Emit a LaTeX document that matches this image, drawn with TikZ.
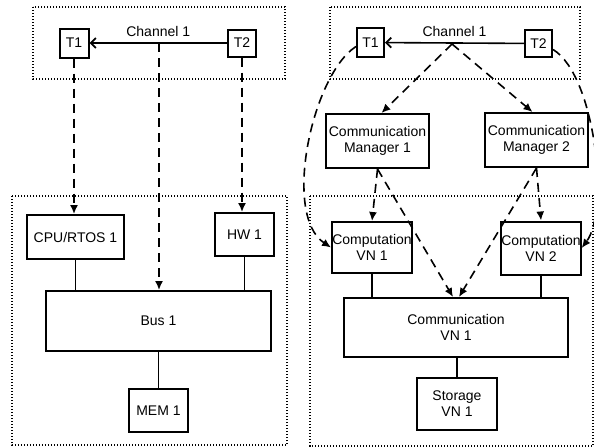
\documentclass[tikz,border=0pt]{standalone}
\usepackage{fontspec}
\setmainfont{Liberation Sans}
\usetikzlibrary{arrows.meta}

\begin{document}
\begin{tikzpicture}[x=1pt,y=-1pt,line width=1.6pt,
  font=\fontsize{14}{16}\selectfont,
  blk/.style={draw,line width=2pt,inner sep=0pt,align=center},
  grp/.style={line width=1.4pt,dash pattern=on 1.4pt off 1.6pt},
  map/.style={dash pattern=on 9pt off 6pt,-{Latex[length=9pt,width=8pt]}},
  chan/.style={-{Straight Barb[length=5pt,width=10pt,line width=1.8pt]}}]

\useasboundingbox (0,0) rectangle (594,447);
% mapping groups (dotted)
\draw[grp] (33,7) rectangle (285,79) (12,196) rectangle (287,445);
\draw[grp] (330,7) rectangle (580,79) (310,196) rectangle (593,446);

% ---- left: platform
\node[blk,minimum width=29pt,minimum height=29pt] (lt1) at (74,43) {T1};
\node[blk,minimum width=28pt,minimum height=27pt] (lt2) at (242,43) {T2};
\node[blk,minimum width=97pt,minimum height=44pt] (lcpu) at (75.5,237) {CPU/RTOS 1};
\node[blk,minimum width=59pt,minimum height=43pt] (lhw) at (244.5,234.5) {HW 1};
\node[blk,minimum width=225pt,minimum height=60pt] (lbus) at (158.5,321) {Bus 1};
\node[blk,minimum width=59pt,minimum height=43pt] (lmem) at (158.5,410.5) {MEM 1};
\draw[chan] (lt2) -- node[above=2pt] (lchl) {Channel 1} (lt1);
\coordinate (lch) at (159,43);
\draw[map] (lt1.south) -- (lt1.south |- lcpu.north);
\draw[map] (lch) -- (lch |- lbus.north);
\draw[map] (lt2.south) -- (lt2.south |- lhw.north);
\draw (lcpu.south) -- (lcpu.south |- lbus.north)
      (lhw.south) -- (lhw.south |- lbus.north)
      (lbus.south) -- (lmem.north);

% ---- right: virtual nodes
\node[blk,minimum width=27pt,minimum height=29pt] (rt1) at (370.5,42.5) {T1};
\node[blk,minimum width=27pt,minimum height=27pt] (rt2) at (538.5,43.5) {T2};
\node[blk,minimum width=103pt,minimum height=54pt] (rcm1) at (377.5,141) {Communication\\Manager 1};
\node[blk,minimum width=103pt,minimum height=54pt] (rcm2) at (536.5,140) {Communication\\Manager 2};
\node[blk,minimum width=80pt,minimum height=51pt] (rvn1) at (372,247.5) {Computation\\VN 1};
\node[blk,minimum width=78pt,minimum height=53pt] (rvn2) at (541,248) {Computation\\VN 2};
\node[blk,minimum width=224pt,minimum height=59pt] (rcom) at (456,327.5) {Communication\\VN 1};
\node[blk,minimum width=80pt,minimum height=52pt] (rsto) at (457,404) {Storage\\VN 1};
\draw[chan] (rt2) -- node[above=2pt] (rchl) {Channel 1} (rt1);
\coordinate (rch) at (452,44);
\draw[map] (rch) -- ([xshift=4pt]rcm1.north);
\draw[map] (rch) -- ([xshift=-4pt]rcm2.north);
\draw[map] (rcm1.south) -- (rvn1.north);
\draw[map] (rcm1.south) -- ([xshift=-3pt]rcom.north);
\draw[map] (rcm2.south) -- (rvn2.north);
\draw[map] (rcm2.south) -- ([xshift=3pt]rcom.north);
\draw[map] ([yshift=-4pt]rt1.west) .. controls (312,75) and (282,215) .. (rvn1.west);
\draw[map] ([yshift=-6pt]rt2.east) .. controls (595,75) and (610,210) .. (rvn2.east);
\draw (rvn1.south) -- (rvn1.south |- rcom.north)
      (rvn2.south) -- (rvn2.south |- rcom.north)
      (rcom.south -| rsto.north) -- (rsto.north);
\end{tikzpicture}
\end{document}
